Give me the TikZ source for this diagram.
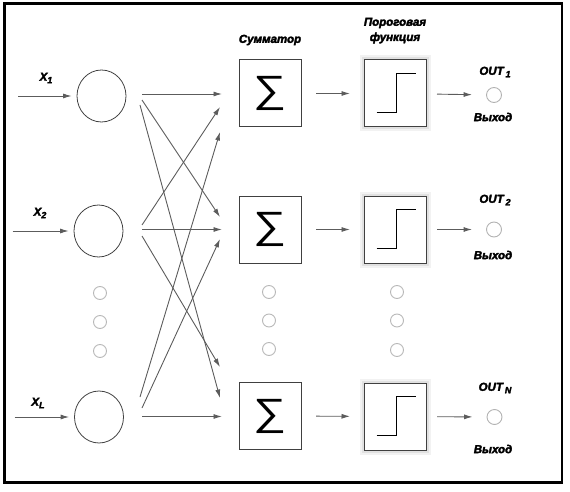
\documentclass[tikz,border=0pt]{standalone}
\usepackage{fontspec}
\setmainfont{Liberation Sans}[BoldItalicFeatures={FakeBold=3}]
\usetikzlibrary{arrows.meta,shapes.geometric}
\newcommand\lsub[1]{\raisebox{-2.5pt}{\fontsize{9}{9}\selectfont #1}}
\begin{document}
\begin{tikzpicture}[x=1pt,y=-1pt,
  conn/.style={draw=black!64, line width=0.9pt, -{Latex[length=8.5pt,width=5pt]}},
  neuron/.style={ellipse, draw=black!75, line width=0.8pt, minimum width=49pt, minimum height=52pt, inner sep=0pt},
  dotc/.style={circle, draw=black!28, line width=0.9pt, minimum size=13pt, inner sep=0pt},
  outc/.style={circle, draw=black!30, line width=0.9pt, minimum size=15pt, inner sep=0pt},
  sumbox/.style={rectangle, draw=black!75, line width=1pt, minimum width=62pt, minimum height=67pt, inner sep=0pt, font=\fontsize{38}{38}\selectfont},
  thrbox/.style={rectangle, draw=black!75, fill=white, line width=1pt, minimum width=62pt, minimum height=67pt, inner sep=0pt,
     preaction={draw=black, opacity=0.05, line width=9pt}, preaction={draw=black, opacity=0.07, line width=5pt}},
  stepline/.style={black, line width=1.6pt},
  lbl/.style={font=\bfseries\itshape\fontsize{11.5}{12}\selectfont, inner sep=0pt}
]
\useasboundingbox (0,0) rectangle (570,492);
\draw[line width=2.6pt] (4.3,3.8) rectangle (561.8,482.5);

% input neurons
\node[neuron] (c1) at (101.5,96) {};
\node[neuron] (c2) at (98.5,231) {};
\node[neuron] (c3) at (99,417) {};

% input arrows
\coordinate (i1) at (18,96);
\coordinate (i2) at (12.7,231);
\coordinate (i3) at (14.5,417);
\draw[conn, shorten >=5pt] (i1) -- (c1);
\draw[conn, shorten >=5pt] (i2) -- (c2);
\draw[conn, shorten >=5pt] (i3) -- (c3);

\node[lbl] (x1) at (46,78) {X\lsub{1}};
\node[lbl] (x2) at (40,213) {X\lsub{2}};
\node[lbl] (x3) at (38,403) {X\lsub{L}};

% dots
\node[dotc] (d1) at (100,293) {};
\node[dotc] (d2) at (100,322) {};
\node[dotc] (d3) at (100,351) {};
\node[dotc] (d4) at (269,292) {};
\node[dotc] (d5) at (269,320.5) {};
\node[dotc] (d6) at (269,349) {};
\node[dotc] (d7) at (397,292) {};
\node[dotc] (d8) at (397,320.5) {};
\node[dotc] (d9) at (397,350) {};

% summators
\node[sumbox] (s1) at (270.5,93.5) {\scalebox{1.22}[1]{∑}};
\node[sumbox] (s2) at (270.5,229.5) {\scalebox{1.22}[1]{∑}};
\node[sumbox] (s3) at (270.5,416) {\scalebox{1.22}[1]{∑}};
\node[lbl] (ls) at (270,40) {Сумматор};

% threshold
\node[thrbox] (t1) at (395.5,93.5) {};
\node[thrbox] (t2) at (395.5,229.5) {};
\node[thrbox] (t3) at (395.5,416.5) {};
\draw[stepline] ([shift={(-19,19)}]t1.center) -- ++(20,0) -- ++(0,-39) -- ++(19,0);
\draw[stepline] ([shift={(-19,19)}]t2.center) -- ++(20,0) -- ++(0,-39) -- ++(19,0);
\draw[stepline] ([shift={(-19,19)}]t3.center) -- ++(20,0) -- ++(0,-39) -- ++(19,0);
\node[lbl] (lt1) at (395,23) {Пороговая};
\node[lbl] (lt2) at (395,38) {функция};

% outputs
\node[outc] (o1) at (494,95) {};
\node[outc] (o2) at (494,229.5) {};
\node[outc] (o3) at (494.5,417) {};
\node[lbl] (lo1) at (495,72) {OUT\,\lsub{1}};
\node[lbl] (lo2) at (495,200) {OUT\,\lsub{2}};
\node[lbl] (lo3) at (495,388) {OUT\,\lsub{N}};
\node[lbl] (ly1) at (493,117) {Выход};
\node[lbl] (ly2) at (493,255) {Выход};
\node[lbl] (ly3) at (493,449) {Выход};

% connection end points
\coordinate (c1a) at (142,94);   \coordinate (s1a) at (222,94);
\coordinate (c1b) at (142,100);  \coordinate (s2a) at (220,217);
\coordinate (c1c) at (140,105);  \coordinate (s3a) at (220,398);
\coordinate (c2a) at (142,225);  \coordinate (s1b) at (220,107);
\coordinate (c2b) at (142,229.5);\coordinate (s2b) at (222,229.5);
\coordinate (c2c) at (142,236);  \coordinate (s3b) at (220,367);
\coordinate (c3a) at (140,397);  \coordinate (s1c) at (220,132);
\coordinate (c3b) at (142,408);  \coordinate (s2c) at (220,239);
\coordinate (c3c) at (142,416.5);\coordinate (s3c) at (222,416.5);
\draw[conn] (c1a) -- (s1a);
\draw[conn] (c1b) -- (s2a);
\draw[conn] (c1c) -- (s3a);
\draw[conn] (c2a) -- (s1b);
\draw[conn] (c2b) -- (s2b);
\draw[conn] (c2c) -- (s3b);
\draw[conn] (c3a) -- (s1c);
\draw[conn] (c3b) -- (s2c);
\draw[conn] (c3c) -- (s3c);

% summator -> threshold -> output
\draw[conn, shorten <=14pt, shorten >=14pt] (s1) -- (t1);
\draw[conn, shorten <=14pt, shorten >=14pt] (s2) -- (t2);
\draw[conn, shorten <=14pt, shorten >=14pt] (s3) -- (t3);
\draw[conn, shorten <=10pt, shorten >=14pt] (t1) -- (o1);
\draw[conn, shorten <=10pt, shorten >=14pt] (t2) -- (o2);
\draw[conn, shorten <=10pt, shorten >=14pt] (t3) -- (o3);
\end{tikzpicture}
\end{document}
